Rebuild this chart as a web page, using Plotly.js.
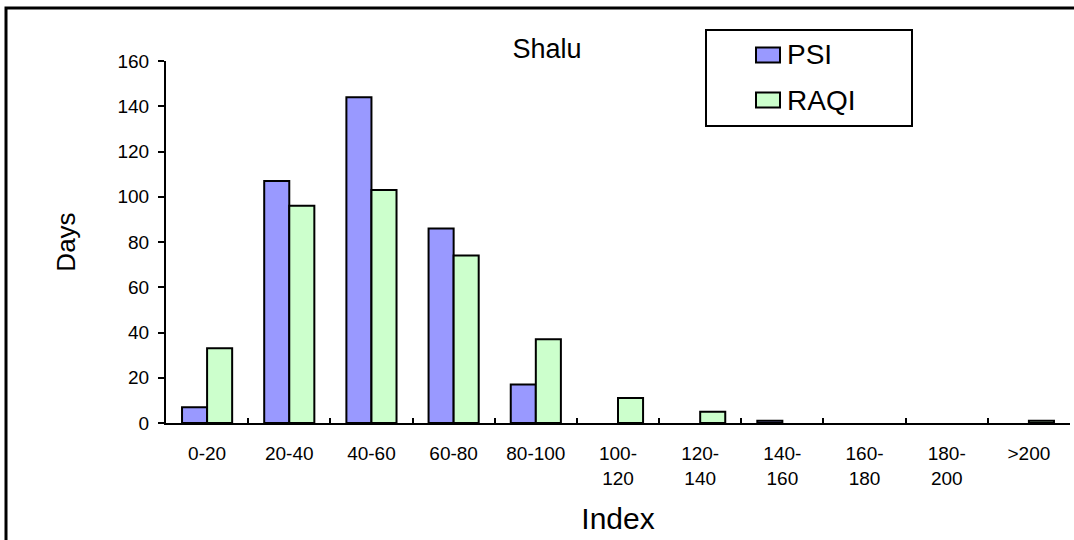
<!DOCTYPE html>
<html>
<head>
<meta charset="utf-8">
<script src="https://cdn.plot.ly/plotly-3.0.1.min.js"></script>
<style>
  html, body { margin: 0; padding: 0; background: #ffffff; }
  #chart { width: 1074px; height: 540px; }
</style>
</head>
<body>
<div id="chart"></div>
<script>
// Index ranges (x categories)
var categories = ['0-20', '20-40', '40-60', '60-80', '80-100', '100-120',
                  '120-140', '140-160', '160-180', '180-200', '>200'];
var tickLabels = ['0-20', '20-40', '40-60', '60-80', '80-100', '100-<br>120',
                  '120-<br>140', '140-<br>160', '160-<br>180', '180-<br>200', '>200'];

// Number of days per index range
var psiDays  = [7, 107, 144, 86, 17, 0, 0, 1, 0, 0, 0];
var raqiDays = [33, 96, 103, 74, 37, 11, 5, 0, 0, 0, 1];

// Plot frame in pixels
var W = 1074, H = 540;
var M = { l: 166, r: 4, t: 61, b: 117 };
var PW = W - M.l - M.r, PH = H - M.t - M.b;
function px(x) { return (x - M.l) / PW; }
function py(y) { return (H - M.b - y) / PH; }

var FONT = 'Liberation Sans, Arial, sans-serif';

// empty ranges get no bar at all (no outline sitting on the axis)
function heights(arr) { return arr.map(function (v) { return v === 0 ? null : v; }); }

var traces = [
  {
    type: 'bar', name: 'PSI', x: categories, y: heights(psiDays), showlegend: false,
    marker: { color: '#9999ff', line: { color: '#000000', width: 2 } }
  },
  {
    type: 'bar', name: 'RAQI', x: categories, y: heights(raqiDays), showlegend: false,
    marker: { color: '#ccffcc', line: { color: '#000000', width: 2 } }
  }
];

// Boxed legend: frame, one swatch + label per series
var shapes = [
  { type: 'rect', xref: 'paper', yref: 'paper',
    x0: px(706), x1: px(912), y0: py(126), y1: py(30),
    line: { color: '#000000', width: 2 }, fillcolor: 'rgba(0,0,0,0)' },
  // outer chart frame (top and left edges)
  { type: 'path', xref: 'paper', yref: 'paper',
    path: 'M ' + px(6) + ' ' + py(545) + ' L ' + px(6) + ' ' + py(8) + ' L ' + px(1080) + ' ' + py(8),
    line: { color: '#000000', width: 3 } }
];
var annotations = [];
var entryY = [55, 100];
traces.forEach(function (t, i) {
  var cy = entryY[i];
  shapes.push({ type: 'rect', xref: 'paper', yref: 'paper',
    x0: px(756), x1: px(780), y0: py(cy + 7.5), y1: py(cy - 7.5),
    line: { color: '#000000', width: 2 }, fillcolor: t.marker.color });
  annotations.push({ xref: 'paper', yref: 'paper', x: px(785), y: py(cy),
    xanchor: 'left', yanchor: 'middle', showarrow: false, text: t.name,
    font: { family: FONT, size: 28, color: '#000000' } });
});

var layout = {
  width: W, height: H,
  margin: M,
  paper_bgcolor: '#ffffff', plot_bgcolor: '#ffffff',
  font: { family: FONT, color: '#000000' },
  barmode: 'group', bargap: 0.39, bargroupgap: 0,
  showlegend: false,
  title: {
    text: 'Shalu', font: { family: FONT, size: 27, color: '#000000' },
    xref: 'paper', x: px(547), xanchor: 'center',
    yref: 'container', y: 1 - 49 / H, yanchor: 'middle'
  },
  xaxis: {
    type: 'category',
    tickmode: 'array', tickvals: categories, ticktext: tickLabels,
    tickson: 'boundaries', ticks: 'inside', ticklen: 5, tickwidth: 2, tickcolor: '#000000',
    tickfont: { family: FONT, size: 19, color: '#000000' },
    ticklabelstandoff: 12,
    showline: true, linecolor: '#000000', linewidth: 2,
    showgrid: false, zeroline: false, fixedrange: true,
    title: { text: 'Index', font: { family: FONT, size: 30, color: '#000000' }, standoff: 20 }
  },
  yaxis: {
    range: [0, 160], tickmode: 'linear', tick0: 0, dtick: 20,
    ticks: 'outside', ticklen: 6, tickwidth: 2, tickcolor: '#000000',
    tickfont: { family: FONT, size: 19, color: '#000000' },
    ticklabelstandoff: 5,
    showline: true, linecolor: '#000000', linewidth: 2,
    showgrid: false, zeroline: false, fixedrange: true,
    title: { text: 'Days', font: { family: FONT, size: 26, color: '#000000' }, standoff: 34 }
  },
  shapes: shapes,
  annotations: annotations
};

Plotly.newPlot('chart', traces, layout, { staticPlot: true, displayModeBar: false });
</script>
</body>
</html>
